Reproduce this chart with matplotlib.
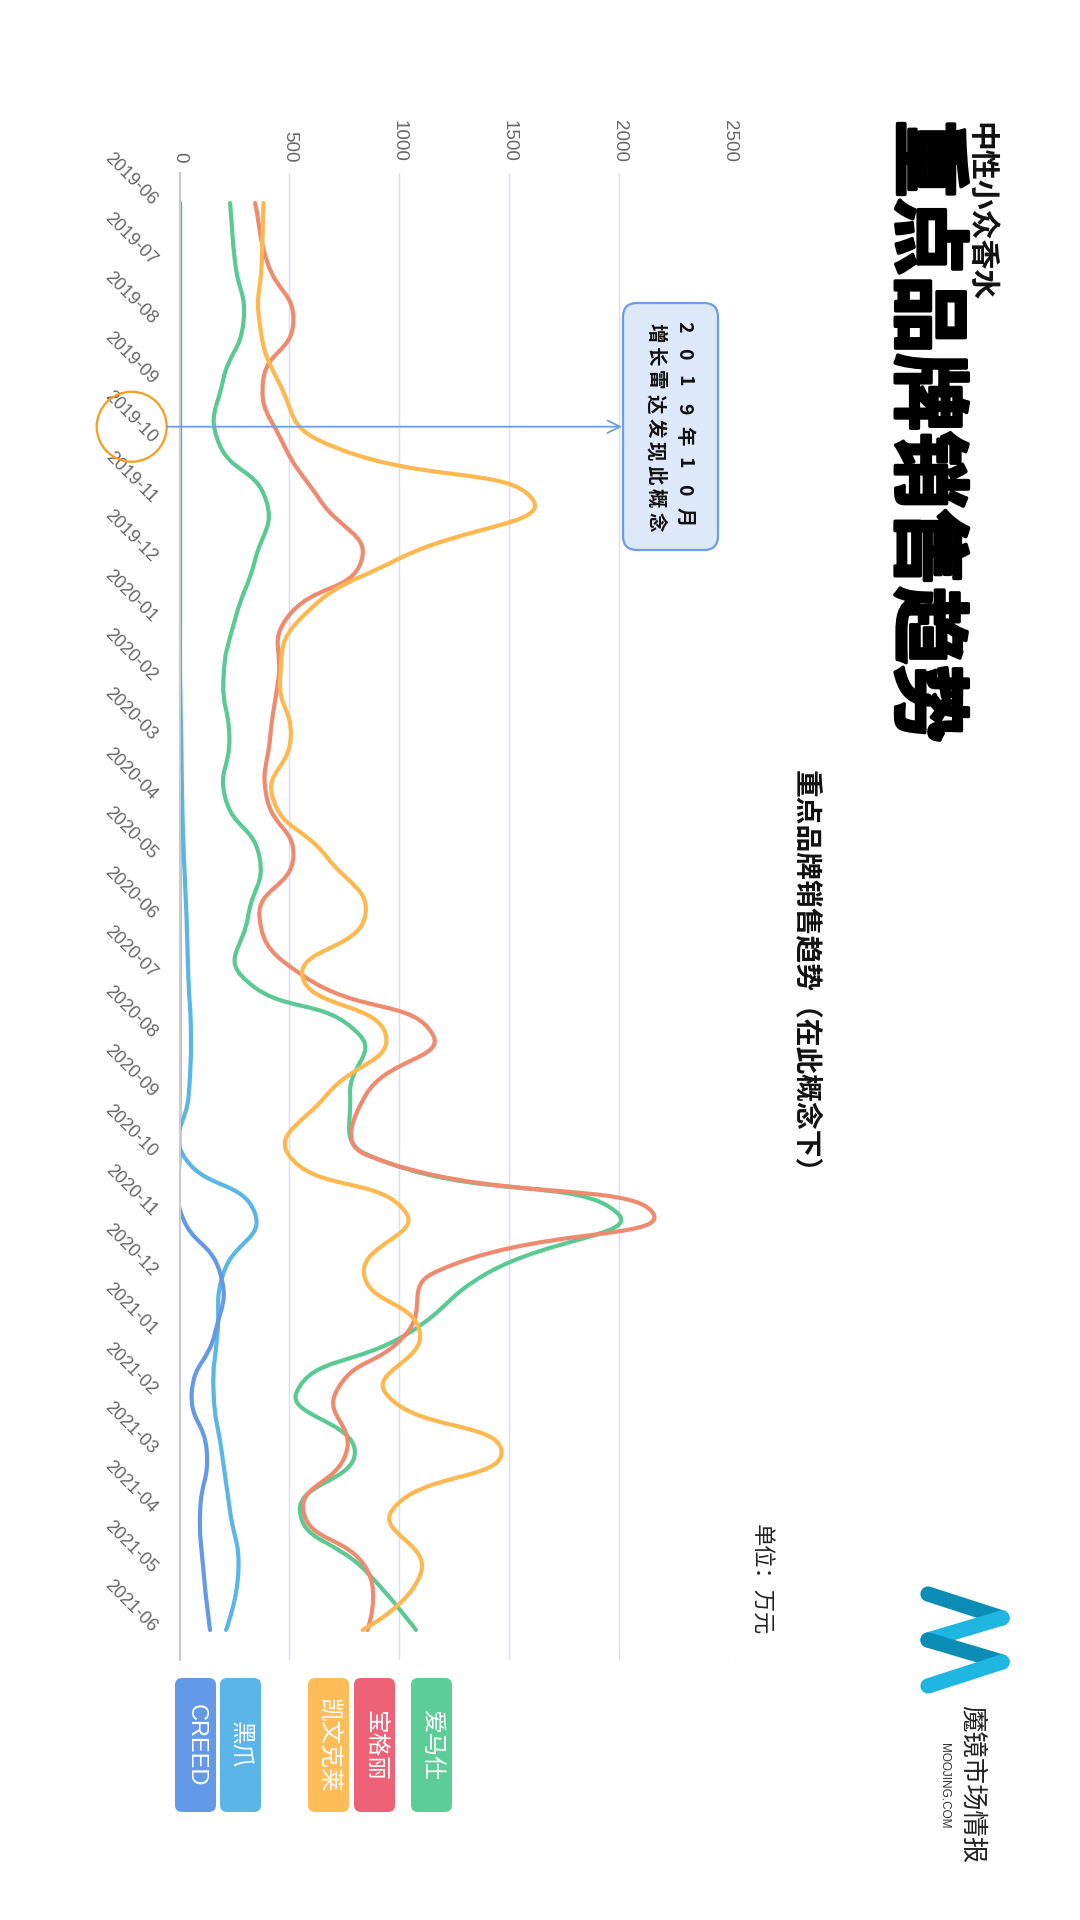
import numpy as np
import matplotlib
matplotlib.use('Agg')
import matplotlib.pyplot as plt
import matplotlib.patheffects as pe
from matplotlib.path import Path
from matplotlib.patches import PathPatch, FancyBboxPatch, Circle

plt.rcParams['font.family'] = ['Noto Sans CJK SC', 'DejaVu Sans']
LATIN = ['Liberation Sans', 'DejaVu Sans']

# data (万元)
months = ['2019-06', '2019-07', '2019-08', '2019-09', '2019-10', '2019-11', '2019-12',
          '2020-01', '2020-02', '2020-03', '2020-04', '2020-05', '2020-06', '2020-07',
          '2020-08', '2020-09', '2020-10', '2020-11', '2020-12', '2021-01', '2021-02',
          '2021-03', '2021-04', '2021-05', '2021-06']
hermes = [230, 253, 291, 197, 175, 394, 344, 253, 200, 227, 208, 364, 312, 283,
          821, 776, 851, 1995, 1400, 1045, 533, 798, 548, 845, 1076]
bvlgari = [344, 400, 518, 380, 465, 640, 829, 485, 450, 412, 397, 518, 364, 564,
           1154, 848, 845, 2156, 1154, 1035, 712, 760, 564, 855, 855]
calvin = [382, 374, 364, 450, 640, 1609, 988, 548, 458, 506, 424, 670, 844, 559,
          939, 670, 495, 1033, 839, 1094, 935, 1465, 965, 1101, 833]
heizhua = [3, 3, 3, 3, 3, 3, 3, 3, 3, 8, 12, 20, 32, 40,
           52, 42, 15, 344, 200, 173, 155, 192, 230, 268, 212]
creed = [0, 0, 0, 0, 0, 0, 0, 0, 0, 0, 0, 0, 0, 0,
         0, 0, 0, 8, 185, 162, 56, 124, 94, 109, 139]
brands = ['爱马仕', '宝格丽', '凯文克莱', '黑爪', 'CREED']
series = [hermes, bvlgari, calvin, heizhua, creed]
value_ticks = [0, 500, 1000, 1500, 2000, 2500]

line_colors = ['#5ac994', '#ef8a6f', '#ffb84f', '#5ab6e6', '#6599e6']
legend_colors = ['#5ccd96', '#ee6277', '#ffbd59', '#5bb6e7', '#6399e6']


def smooth_path(ax, xs, ys, smooth=0.5):
    # echarts-style bezier smoothing, done in pixel space
    pts = ax.transData.transform(np.column_stack([xs, ys]))
    n = len(pts)
    verts = [pts[0]]
    codes = [Path.MOVETO]
    cp0 = pts[0]
    for k in range(n):
        p = pts[k]
        prev = pts[k - 1] if k > 0 else p
        if k == n - 1:
            v = np.zeros(2)
            ratio = 0.5
            next_cp = p
        else:
            nxt = pts[k + 1]
            v = nxt - prev
            l0 = np.hypot(*(p - prev))
            l1 = np.hypot(*(nxt - p))
            ratio = l1 / (l0 + l1)
            next_cp = p + v * smooth * ratio
        if k > 0:
            cp1 = p - v * smooth * (1 - ratio)
            verts += [cp0, cp1, p]
            codes += [Path.CURVE4] * 3
        cp0 = next_cp
    verts = ax.transData.inverted().transform(np.array(verts))
    return Path(verts, codes)


W, H = 1080, 1920
fig = plt.figure(figsize=(W / 100, H / 100), dpi=100)
fig.patch.set_facecolor('white')

# chart is drawn turned 90 degrees: values run left->right, months top->bottom
x0, x1, y0, y1 = 179.5, 729, 173.3, 1659.7
ax = fig.add_axes([x0 / W, 1 - y1 / H, (x1 - x0) / W, (y1 - y0) / H])
ax.set_xlim(0, 2500)
ax.set_ylim(len(months) - 0.5, -0.5)

for s in ['top', 'right', 'bottom']:
    ax.spines[s].set_visible(False)
ax.spines['left'].set_color('#cccccc')
ax.spines['left'].set_linewidth(1.5)

ax.set_xticks(value_ticks)
ax.xaxis.tick_top()
ax.tick_params(axis='x', length=0, pad=8, labelsize=13.5, labelcolor='#666666', labelrotation=-90)
for lbl in ax.get_xticklabels():
    lbl.set_family(LATIN)
    lbl.set_va('bottom')
    lbl.set_ha('center')
ax.grid(axis='x', color='#d3e0f8', lw=1.0)
ax.set_axisbelow(True)
ax.get_xgridlines()[0].set_visible(False)
ax.get_xgridlines()[-1].set_color('#eef3fc')

ax.set_yticks(range(len(months)))
ax.set_yticklabels(months, rotation=-45, ha='right', va='center', rotation_mode='anchor',
                   fontsize=13, color='#666666', family=LATIN)
ax.tick_params(axis='y', length=0, pad=18)

xs_idx = np.arange(len(months))
for vals, c in zip(series, line_colors):
    path = smooth_path(ax, vals, xs_idx)
    ax.add_patch(PathPatch(path, fill=False, edgecolor=c, lw=3,
                           capstyle='round', joinstyle='round'))

# overlay in pixel coordinates for titles, legend, notes
ov = fig.add_axes([0, 0, 1, 1])
ov.set_xlim(0, W)
ov.set_ylim(H, 0)
ov.axis('off')

ov.text(980, 122, '中性小众香水', rotation=-90, ha='center', va='top',
        fontsize=21.5, fontweight='bold', color='#111111')
ov.text(925, 120, '重点品牌销售趋势', rotation=-90, ha='center', va='top',
        fontsize=56, fontweight='heavy', color='#000000',
        path_effects=[pe.withStroke(linewidth=2.5, foreground='#000000')])
ov.text(806, 978, '重点品牌销售趋势（在此概念下）', rotation=-90, ha='center', va='center',
        fontsize=20, fontweight='bold', color='#111111')
ov.text(761, 1524, '单位：万元', rotation=-90, ha='center', va='top',
        fontsize=16, color='#222222')

# legend tags
legend_x = [411, 354, 308, 220, 175]
for name, c, lx in zip(brands, legend_colors, legend_x):
    ov.add_patch(FancyBboxPatch((lx, 1678), 41, 134,
                                boxstyle='round,pad=0,rounding_size=7',
                                facecolor=c, edgecolor='none'))
    ov.text(lx + 20.5, 1745, name, rotation=-90, ha='center', va='center',
            fontsize=17, color='white',
            family=LATIN if name == 'CREED' else ['Noto Sans CJK SC', 'DejaVu Sans'])

# annotation
ov.add_patch(Circle((131.7, 426.7), 35, fill=False, edgecolor='#f59d1f', lw=1.6))
ov.annotate('', xy=(622, 426.7), xytext=(167, 426.7),
            arrowprops=dict(arrowstyle='->,head_length=0.9,head_width=0.45',
                            color='#6b9de8', lw=1.3, shrinkA=0, shrinkB=0))
ov.add_patch(FancyBboxPatch((623, 303), 95, 247,
                            boxstyle='round,pad=0,rounding_size=14',
                            facecolor='#dde9f8', edgecolor='#6b9de8', lw=1.6))
line1 = ['2', '0', '1', '9', '年', '1', '0', '月']
line2 = list('增长雷达发现此概念')
for j, ch in enumerate(line1):
    ov.text(684, 327 + j * 27.1, ch, rotation=-90, ha='center', va='center',
            fontsize=14, fontweight='bold', color='#111111')
for j, ch in enumerate(line2):
    ov.text(655, 333 + j * 23.6, ch, rotation=-90, ha='center', va='center',
            fontsize=14, fontweight='bold', color='#111111')

# logo
logo = [(928, 1594), (1002, 1618), (928, 1640), (1002, 1662), (928, 1686)]
logo_c = ['#0b8db6', '#1fb6e2', '#0b8db6', '#1fb6e2']
for (ax0, ay0), (ax1, ay1), c in zip(logo[:-1], logo[1:], logo_c):
    ov.plot([ax0, ax1], [ay0, ay1], color=c, lw=11, solid_capstyle='round')
ov.text(972, 1705, '魔镜市场情报', rotation=-90, ha='center', va='top',
        fontsize=19, color='#222222')
ov.text(944, 1786, 'MOOJING.COM', rotation=-90, ha='center', va='center',
        fontsize=8.5, color='#333333', family=LATIN)

fig.savefig('out.png', dpi=100, facecolor='white')
